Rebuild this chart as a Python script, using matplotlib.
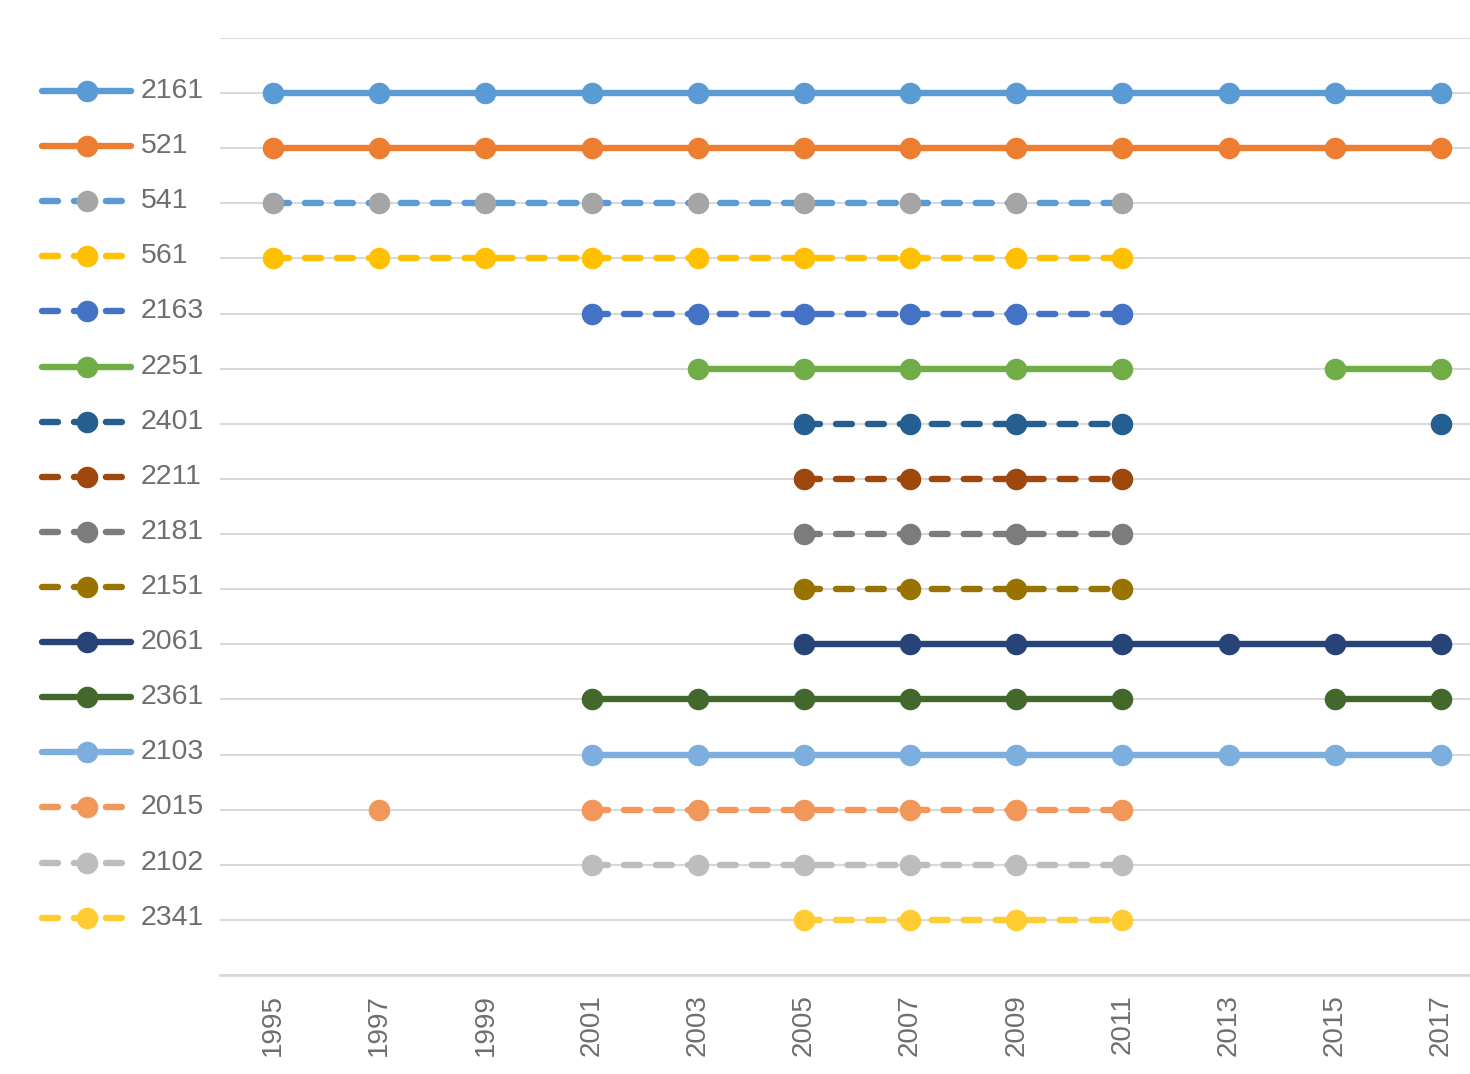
import numpy as np
import matplotlib.pyplot as plt

plt.rcParams['font.family'] = ['Liberation Sans', 'DejaVu Sans']

years = list(range(1995, 2018, 2))

series_names = ['2161', '521', '541', '561', '2163', '2251', '2401', '2211',
                '2181', '2151', '2061', '2361', '2103', '2015', '2102', '2341']

# years in which each series has a point
series_years = [
    list(range(1995, 2018, 2)),
    list(range(1995, 2018, 2)),
    list(range(1995, 2012, 2)),
    list(range(1995, 2012, 2)),
    list(range(2001, 2012, 2)),
    list(range(2003, 2012, 2)) + [2015, 2017],
    list(range(2005, 2012, 2)) + [2017],
    list(range(2005, 2012, 2)),
    list(range(2005, 2012, 2)),
    list(range(2005, 2012, 2)),
    list(range(2005, 2018, 2)),
    list(range(2001, 2012, 2)) + [2015, 2017],
    list(range(2001, 2018, 2)),
    [1997] + list(range(2001, 2012, 2)),
    list(range(2001, 2012, 2)),
    list(range(2005, 2012, 2)),
]

line_colors = ['#5B9BD5', '#ED7D31', '#5B9BD5', '#FFC000', '#4472C4', '#70AD47',
               '#255E91', '#9E480E', '#7C7C7C', '#997300', '#264478', '#43682B',
               '#7CAFDD', '#F1975A', '#BDBDBD', '#FFCD33']
marker_colors = ['#5B9BD5', '#ED7D31', '#A5A5A5', '#FFC000', '#4472C4', '#70AD47',
                 '#255E91', '#9E480E', '#7C7C7C', '#997300', '#264478', '#43682B',
                 '#7CAFDD', '#F1975A', '#BDBDBD', '#FFCD33']
dashed = [False, False, True, True, True, False, True, True,
          True, True, False, False, False, True, True, True]

W, H = 1470, 1074
fig = plt.figure(figsize=(W / 100, H / 100), dpi=100)
ax = fig.add_axes([220 / W, (H - 975) / H, (1494 - 220) / W, (975 - 38) / H])

lw = 4.6
ms = 14.5
dash = (0, (2.5, 2.5))
grid_color = '#D9D9D9'
text_color = '#6E6E6E'

for i, name in enumerate(series_names):
    row = i + 1
    vals = np.array([row if y in series_years[i] else np.nan for y in years], dtype=float)
    kw = dict(color=line_colors[i], lw=lw, marker='o', ms=ms,
              markerfacecolor=marker_colors[i], markeredgecolor=marker_colors[i],
              solid_capstyle='round', dash_capstyle='round', zorder=3)
    if dashed[i]:
        kw['linestyle'] = dash
    ax.plot(years, vals, **kw)

ax.set_xlim(1994, 2018)
ax.set_ylim(17, 0)
ax.set_yticks(range(0, 18))
ax.set_yticklabels([])
ax.tick_params(axis='y', length=0)
ax.grid(axis='y', color=grid_color, lw=1.5, zorder=0)
ax.set_xticks(years)
ax.set_xticklabels([str(y) for y in years], rotation=90, fontsize=20, color=text_color)
ax.tick_params(axis='x', length=0, pad=14)
for s in ['top', 'left', 'right']:
    ax.spines[s].set_visible(False)
ax.spines['bottom'].set_color(grid_color)
ax.spines['bottom'].set_linewidth(2)

# legend as row labels on the left
lax = fig.add_axes([0, (H - 975) / H, 220 / W, (975 - 38) / H])
lax.set_xlim(0, 220)
lax.set_ylim(17, 0)
lax.axis('off')
for i, name in enumerate(series_names):
    row = i + 1
    kw = dict(color=line_colors[i], lw=lw, marker='o', ms=ms, markevery=[1],
              markerfacecolor=marker_colors[i], markeredgecolor=marker_colors[i],
              solid_capstyle='round', dash_capstyle='round')
    if dashed[i]:
        kw['linestyle'] = dash
    lax.plot([42, 87, 131], [row - 0.04] * 3, **kw)
    lax.text(141, row - 0.04, name, fontsize=20.5, color=text_color, va='center', ha='left')

fig.savefig('out.png', dpi=100)
